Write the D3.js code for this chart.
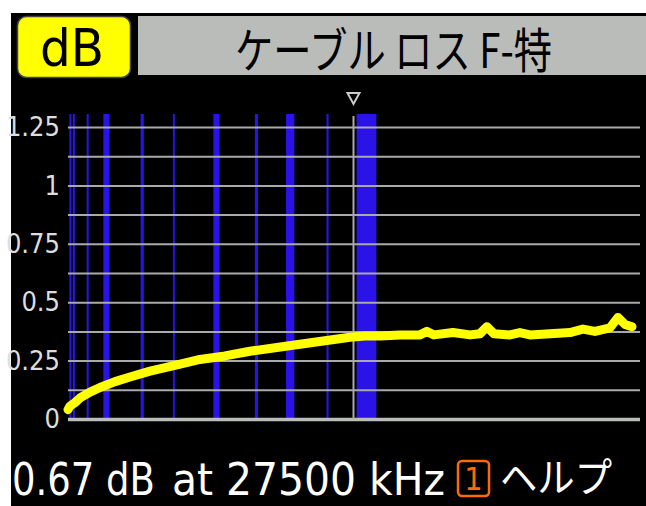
<!DOCTYPE html>
<html>
<head>
<meta charset="utf-8">
<title>ケーブル ロス F-特</title>
<script src="https://cdn.jsdelivr.net/npm/d3@7/dist/d3.min.js"></script>
<style>
  body { margin: 0; background: #fff; }
  svg { display: block; }
  text { font-family: "DejaVu Sans Condensed", "DejaVu Sans", sans-serif; }
</style>
</head>
<body>
<script>
// band markers (kHz)
var bandStart = [130, 470, 1800, 3400, 7000, 10100, 14000, 18000, 21000, 24900, 27800];
var bandEnd   = [140, 480, 1900, 4000, 7300, 10200, 14600, 18300, 21800, 25100, 29700];

// measured cable loss
var freqKHz = [0, 190, 670, 1160, 2120, 3080, 4530, 5970, 7900, 10300, 12710, 15120, 17530,
  19940, 22340, 24750, 27160, 28600, 30050, 31980, 33900, 34580, 35250, 37080, 38720, 39680,
  40350, 41030, 42570, 43530, 44500, 46420, 48350, 49600, 50760, 52200, 52970, 53650, 54320];
var lossDb = [0.04, 0.055, 0.07, 0.09, 0.115, 0.135, 0.16, 0.18, 0.205, 0.23, 0.255, 0.27, 0.29,
  0.305, 0.32, 0.335, 0.35, 0.355, 0.355, 0.36, 0.36, 0.375, 0.36, 0.37, 0.36, 0.365,
  0.395, 0.365, 0.36, 0.37, 0.36, 0.365, 0.37, 0.385, 0.375, 0.39, 0.435, 0.405, 0.395];

var gridTicks = [0, 0.125, 0.25, 0.375, 0.5, 0.625, 0.75, 0.875, 1, 1.125, 1.25];
var labelTicks = [0, 0.25, 0.5, 0.75, 1, 1.25];
var markerKHz = 27500;

var W = 646, H = 506;
var svg = d3.select("body").append("svg").attr("width", W).attr("height", H);

svg.append("rect").attr("x", 11).attr("y", 13).attr("width", W - 11).attr("height", H - 13).attr("fill", "#000");

// header
svg.append("rect").attr("x", 138).attr("y", 16).attr("width", W - 138).attr("height", 59).attr("fill", "#b9bcb9");
svg.append("rect").attr("x", 17.5).attr("y", 16.5).attr("width", 113).attr("height", 61).attr("rx", 9)
  .attr("fill", "#ffff00").attr("stroke", "#444").attr("stroke-width", 1.5);
svg.append("text").attr("x", 40).attr("y", 66).attr("font-size", 52).attr("textLength", 64)
  .attr("lengthAdjust", "spacingAndGlyphs").attr("fill", "#000").text("dB");
svg.append("text").attr("x", 235).attr("y", 68).attr("font-size", 48).attr("textLength", 317)
  .attr("lengthAdjust", "spacingAndGlyphs").attr("fill", "#000")
  .style("font-family", "'Noto Sans CJK JP', sans-serif").text("ケーブル ロス F-特");

var x = d3.scaleLinear().domain([0, 55000]).range([68, 639]);
var y = d3.scaleLinear().domain([0, 1.25]).range([419, 127]);
var barTop = 114;

// bands
svg.append("g").selectAll("rect").data(bandStart).join("rect")
  .attr("x", function(d) { return x(d); })
  .attr("width", function(d, i) { return Math.max(2, x(bandEnd[i]) - x(d)); })
  .attr("y", barTop).attr("height", y(0) - barTop)
  .attr("fill", "#2b12e6");

// grid
var grid = svg.append("g").attr("transform", "translate(68,0)")
  .call(d3.axisLeft(y).tickValues(gridTicks).tickSize(-572).tickFormat(""));
grid.select(".domain").remove();
grid.selectAll("line")
  .attr("stroke-width", function(d) { return d === 0 ? 3.5 : 2; })
  .attr("stroke", function(d) { return d === 0 ? "#bbbdbb" : "#a9aaa9"; });

// labels
var lab = svg.append("g").attr("transform", "translate(60,0)")
  .call(d3.axisLeft(y).tickValues(labelTicks).tickSize(0).tickPadding(0).tickFormat(d3.format("")));
lab.select(".domain").remove();
lab.selectAll("text").attr("fill", "#ddd").attr("font-size", 27)
  .style("font-family", "'DejaVu Sans Condensed', 'DejaVu Sans', sans-serif");

// marker
svg.append("line").attr("x1", x(markerKHz)).attr("x2", x(markerKHz)).attr("y1", 116).attr("y2", y(0))
  .attr("stroke", "#aaa").attr("stroke-width", 2);
var mx = x(markerKHz);
svg.append("path").attr("d", "M" + (mx - 6) + ",93 L" + (mx + 6) + ",93 L" + mx + ",104 Z")
  .attr("fill", "none").attr("stroke", "#ccc").attr("stroke-width", 2);

// curve
var line = d3.line().x(function(d, i) { return x(freqKHz[i]); }).y(function(d) { return y(d); });
svg.append("path").datum(lossDb).attr("d", line)
  .attr("fill", "none").attr("stroke", "#ffff00").attr("stroke-width", 9)
  .attr("stroke-linejoin", "round").attr("stroke-linecap", "round");

// bottom readout
svg.append("text").attr("x", 12).attr("y", 495).attr("font-size", 44).attr("textLength", 143)
  .attr("lengthAdjust", "spacingAndGlyphs").attr("fill", "#fff").text("0.67 dB");
svg.append("text").attr("x", 172).attr("y", 495).attr("font-size", 44).attr("textLength", 273)
  .attr("lengthAdjust", "spacingAndGlyphs").attr("fill", "#fff").text("at 27500 kHz");
svg.append("rect").attr("x", 458).attr("y", 461).attr("width", 31).attr("height", 35).attr("rx", 4)
  .attr("fill", "none").attr("stroke", "#ff6a00").attr("stroke-width", 2.5);
svg.append("text").attr("x", 473.5).attr("y", 490).attr("text-anchor", "middle").attr("font-size", 32)
  .attr("fill", "#ff6a00").text("1");
svg.append("text").attr("x", 500).attr("y", 492).attr("font-size", 40).attr("textLength", 112)
  .attr("lengthAdjust", "spacingAndGlyphs").attr("fill", "#fff")
  .style("font-family", "'Noto Sans CJK JP', sans-serif").text("ヘルプ");
</script>
</body>
</html>
